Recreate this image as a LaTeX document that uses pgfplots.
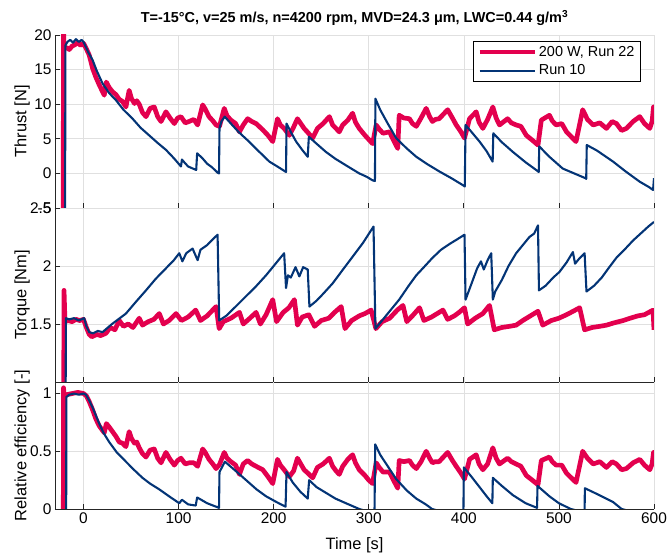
\documentclass[border=0pt]{standalone}
\usepackage{pgfplots}
\pgfplotsset{compat=1.18}
\usepackage{fontspec}
\setmainfont{Liberation Sans}
\definecolor{cred}{RGB}{227,0,78}
\definecolor{cblue}{RGB}{3,52,118}
\pgfplotsset{
 myax/.style={scale only axis, width=599bp, xmin=-30, xmax=600,
  axis x line*=bottom, axis y line*=left, axis line style={-, color=black!85, line width=0.7pt},
  tick align=inside, major tick length=5bp, tick style={color=black!85, line width=0.7pt},
  grid=major, grid style={color=black!12, line width=0.6pt},
  xtick={0,100,...,600},
  tick label style={font=\fontsize{15.5}{17}\selectfont},
  label style={font=\fontsize{16.5}{18}\selectfont},
  /pgf/number format/assume math mode=true,
  ylabel style={at={(axis description cs:-0.055,0.5)}, anchor=center},
  no markers,
 },
 redl/.style={color=cred, line width=4.7pt, line join=round},
 bluel/.style={color=cblue, line width=2.1pt, line join=round},
}
\begin{document}
\begin{tikzpicture}
\path[use as bounding box] (-55bp,-47bp) rectangle (615bp,509bp);
% ---------------- Thrust ----------------
\begin{axis}[myax, at={(0,301bp)}, anchor=south west, height=173bp,
  ymin=-5, ymax=20, ytick={-5,0,5,10,15,20}, xticklabels={},
  ylabel={Thrust [N]},
  legend style={at={(0.978,0.965)}, anchor=north east, draw=black, line width=0.6pt, fill=white,
    font=\fontsize{14.5}{16}\selectfont, inner xsep=4bp, inner ysep=3bp, row sep=3bp},
  legend cell align=left,
  legend image code/.code={\draw[#1] (0bp,0bp) -- (55bp,0bp);}]
\addplot[redl] coordinates {
(-30,-10) (-21.5,-10) (-21,22) (-20.5,18.0) (-18,18.2) (-15,17.9) (-12,18.4) (-9,18.6) (-6,18.9) (-3,18.5) (0,18.8)
(3,18.0) (6,17.1) (9.5,15.2) (13,13.9) (16.5,12.8) (21.8,11.3) (24,13.2) (27,12.4) (30.5,11.8) (34,11.4) (37.6,10.7)
(41,10.4) (44.6,9.6) (48,12.0) (50.5,10.8) (53.6,10.1) (56,10.5) (58.6,10.0) (62,8.8) (65.7,8.2) (70,9.4) (74.4,9.6) (78,8.2) (81.5,7.5) (86.7,8.9) (91,8.0)
(95.5,7.2) (99,8.0) (102.5,8.2) (107,7.3) (111,7.5) (116,7.8) (120,7.0) (125.3,9.9) (128,9.3) (132,8.2)
(136,7.6) (139.4,7.0) (143,6.8) (148,9.4) (151,8.3) (155,7.7) (160,7.2) (164,6.0) (168,7.0) (172.6,7.9) (177,7.5) (181.5,7.2)
(188.5,6.3) (194,5.5) (199,4.6) (204,7.9) (207,7.0) (211,6.5) (216.5,5.5) (221,6.7) (225,7.9) (232,6.5) (236,5.9)
(241,5.1) (246,6.5) (252,7.2) (258.6,8.2) (262,7.0) (265.6,6.5) (269,6.0) (272.6,7.0) (278,7.7) (283,8.7)
(286,7.4) (290,6.5) (296,5.5) (300,4.9) (304,4.3) (307.8,7.0) (311,6.4) (315,5.8) (321.8,6.0) (326,4.8) (330.5,3.6)
(332,8.4) (337,8.0) (342.8,7.9) (346,7.2) (350,6.8) (355,8.0) (360.4,9.4) (364,8.2) (367,7.5) (370,7.8) (374,7.9) (383,9.2)
(388,8.0) (392,7.0) (397,6.0) (400.7,5.1) (406,7.9) (413,8.9) (416,7.4) (420,6.5) (425,7.8) (430.5,9.6) (434,8.0) (437.5,7.0)
(446,7.9) (450,7.3) (455,7.0) (460,6.8) (465.7,5.5) (472,4.8) (478,4.1) (481.5,7.7) (490,8.4) (493,7.6) (497,7.0) (503,7.2)
(508,6.0) (513,5.3) (518,4.6) (525,9.2) (530,7.8) (536,7.0) (543,7.3) (550,6.5) (556,7.5) (560.5,7.2)
(566,6.2) (571,6.5) (578,7.5) (585,8.2) (590,7.2) (595.6,6.5) (598,7.5) (599.5,9.6) (600,8.4)
};
\addlegendentry{200 W, Run 22}
\addplot[bluel] coordinates {
(-30,-10) (-19.5,-10) (-19,18.5) (-17,19.0) (-14,19.3) (-11,18.9) (-8,19.4) (-5,19.0) (-2,19.3) (0,19.0)
(2,18.4) (5,17.5) (9.5,16.4) (14,14.8) (20,13.0) (27,11.6) (34,10.6) (42,9.2) (51.6,7.9) (60,6.6) (69,5.5)
(78,4.4) (86.7,3.4) (95,2.2) (102.5,1.0) (103.5,2.0) (106,1.6) (110,1.0) (115,0.7) (118.5,0.5) (119.5,2.9)
(125,2.2) (130,1.4) (135,0.9) (141,0.1) (142.5,0.0) (143,6.5) (145,7.5) (148.5,8.2) (155,7.2) (163,6.0)
(174,4.6) (185,3.1) (195.5,1.7) (205,0.9) (213,0.2) (213.5,7.2) (218,6.0) (223.6,4.6) (230,3.4) (235.8,2.4)
(237,5.3) (245,4.3) (255,3.1) (265,2.1) (278,1.0) (290,0.0) (298,-0.5) (304,-1.0) (306.5,-1.1) (307,10.8)
(312,9.2) (320,7.2) (328.8,5.1) (340,3.6) (350,2.4) (362,1.3) (374,0.3) (387,-0.7) (399,-1.7) (401,-1.9)
(401.8,7.0) (408,6.0) (416.5,4.6) (424,3.2) (430.3,1.7) (431,5.8) (440,4.5) (451.6,3.1) (465,1.6) (478,0.3)
(478.8,0.2) (479.3,3.9) (490,2.4) (504,0.7) (516,0) (528,-0.7) (528.7,-0.8) (529.3,4.1) (540,3.3) (557,1.7)
(570,0.3) (585,-1.2) (595,-2.0) (599,-2.4) (600,-0.7)
};
\addlegendentry{Run 10}
\end{axis}
% ---------------- Torque ----------------
\begin{axis}[myax, at={(0,127bp)}, anchor=south west, height=174bp,
  ymin=1, ymax=2.5, ytick={1.5,2,2.5}, xticklabels={},
  ylabel={Torque [Nm]}]
\addplot[redl] coordinates {
(-30,0.5) (-21,0.5) (-20.5,1.79) (-19.5,1.52) (-16,1.53) (-12,1.52) (-8,1.54) (-4,1.53) (0,1.54) (3,1.47)
(6,1.41) (8.7,1.39) (14,1.41) (18,1.40) (23.6,1.42) (28,1.47) (33,1.45) (37.6,1.53) (42,1.48) (47,1.50)
(52,1.47) (58.6,1.55) (62,1.49) (68,1.52) (74,1.54) (79.7,1.59) (84,1.50) (90,1.53) (97.3,1.59) (103,1.53)
(110,1.56) (118,1.62) (123,1.53) (130,1.57) (139.4,1.65) (142.7,1.46) (147,1.52) (155,1.55) (164,1.60)
(168,1.50) (175,1.55) (181.5,1.60) (186,1.50) (192,1.58) (199,1.71) (203,1.52) (210,1.60) (216,1.64)
(221.8,1.71) (225,1.49) (230,1.56) (237,1.58) (243,1.48) (250,1.53) (258,1.55) (264,1.60) (271,1.65)
(275,1.46) (282,1.53) (290,1.57) (296,1.59) (302.5,1.62) (307.5,1.46) (314,1.52) (322,1.55) (330,1.62)
(336,1.66) (340,1.52) (347,1.58) (353.4,1.64) (358,1.53) (366,1.56) (372,1.59) (378,1.62) (383,1.54)
(390,1.57) (395,1.60) (400.7,1.64) (404,1.50) (412,1.55) (420,1.59) (427,1.66) (432,1.45) (440,1.47)
(448,1.48) (455,1.49) (462,1.53) (470,1.57) (478,1.61) (483,1.49) (492,1.53) (500,1.55) (508,1.58)
(515,1.61) (521.8,1.64) (527,1.45) (535,1.47) (543,1.48) (550,1.49) (558,1.51) (567.7,1.53) (575,1.55)
(583,1.57) (590,1.58) (599,1.62) (600,1.45)
};
\addplot[bluel] coordinates {
(-30,0.5) (-19,0.5) (-18.5,1.55) (-15,1.54) (-10,1.55) (-5,1.53) (0.7,1.55) (3,1.48) (6,1.43) (10,1.42)
(15,1.44) (20,1.43) (30,1.50) (44.6,1.59) (55,1.69) (65.7,1.79) (76,1.89) (86.7,1.98) (95,2.05) (100.7,2.11)
(104,2.04) (108,2.11) (114.7,2.15) (120,2.05) (123,2.14) (130,2.18) (136,2.23) (141,2.27) (142.7,1.53)
(150,1.57) (160,1.65) (171,1.74) (182,1.83) (192,1.92) (202,2.02) (211,2.11) (213,1.81) (215,1.92) (218,1.90)
(223,1.99) (227,1.91) (231,1.99) (235.8,1.97) (237.6,1.65) (245,1.70) (252,1.76) (262,1.85) (272,1.96)
(283,2.08) (294,2.20) (305,2.34) (307,1.46) (316,1.55) (324,1.63) (332,1.71) (342,1.83) (350,1.92) (358,1.99)
(367,2.07) (376,2.14) (385,2.19) (393,2.23) (400.7,2.27) (401.8,1.71) (405,1.78) (409.5,1.88) (414,1.98)
(418,2.04) (421,1.97) (425,2.05) (428.8,2.11) (430.5,1.71) (433,1.78) (440,1.88) (447,2.00) (455,2.11)
(462,2.18) (469,2.25) (474,2.28) (478,2.35) (479,1.79) (486,1.83) (494,1.90) (500.7,1.95) (508,2.03)
(514.7,2.12) (517,2.02) (521,2.06) (527,2.11) (529,1.78) (537,1.83) (545,1.90) (553,1.99) (560.4,2.07)
(570,2.15) (578,2.22) (586,2.28) (594,2.34) (600,2.38)
};
\end{axis}
% ---------------- Efficiency ----------------
\begin{axis}[myax, at={(0,0)}, anchor=south west, height=127bp,
  ymin=0, ymax=1.1, ytick={0,0.5,1},
  ylabel={Relative efficiency [-]}, xlabel={Time [s]},
  xlabel style={at={(axis description cs:0.5,0)}, anchor=center, yshift=-36bp}]
\addplot[redl] coordinates {
(-30,-1) (-21.5,-1) (-21,1.05) (-20.5,0.98) (-18,0.99) (-12,1.0) (-6,1.01) (0,1.0) (3,0.98) (6,0.93)
(9.5,0.86) (13,0.78) (16.5,0.72) (21.8,0.66) (24,0.74) (27,0.71) (30.5,0.67) (34,0.63) (37.6,0.58) (41,0.57) (44.6,0.54)
(48,0.67) (50.5,0.61) (53.6,0.57) (56,0.58) (58.6,0.53) (62,0.48) (65.7,0.45) (70,0.51) (74.4,0.52) (78,0.44) (81.5,0.40) (86.7,0.49) (91,0.43)
(95.5,0.38) (99,0.42) (102.5,0.44) (107,0.39) (111,0.40) (116,0.40) (120,0.37) (125.3,0.52) (128,0.49)
(132,0.43) (136,0.39) (139.4,0.35) (143,0.385) (148,0.49) (151,0.44) (155,0.41) (160,0.38) (164,0.30) (168,0.39) (172.6,0.42)
(177,0.39) (181.5,0.37) (188.5,0.34) (194,0.28) (199,0.22) (204,0.43) (207,0.38) (211,0.34) (216.5,0.28) (221,0.33)
(225,0.44) (232,0.34) (236,0.31) (241,0.27) (246,0.36) (252,0.39) (258.6,0.44) (262,0.37) (265.6,0.33)
(269,0.30) (272.6,0.37) (278,0.43) (283,0.47) (286,0.40) (290,0.34) (296,0.29) (300,0.25) (304,0.22) (307.8,0.40)
(311,0.36) (315,0.32) (321.8,0.32) (326,0.25) (330.5,0.18) (332,0.42) (337,0.41) (342.8,0.42) (346,0.38) (350,0.35)
(355,0.41) (360.4,0.50) (364,0.44) (367,0.40) (370,0.41) (374,0.41) (383,0.49) (388,0.42) (392,0.37) (397,0.31)
(400.7,0.26) (406,0.43) (413,0.47) (416,0.39) (420,0.34) (425,0.39) (430.5,0.53) (434,0.44) (437.5,0.39) (446,0.44) (450,0.41) (455,0.39)
(460,0.37) (465.7,0.29) (472,0.25) (478,0.21) (481.5,0.42) (490,0.45) (493,0.41) (497,0.38) (503,0.38) (508,0.31)
(513,0.27) (518,0.23) (525,0.50) (530,0.44) (536,0.39) (543,0.41) (550,0.36) (556,0.41) (560.5,0.39)
(566,0.34) (571,0.35) (578,0.40) (585,0.43) (590,0.38) (595.6,0.34) (598,0.39) (599.5,0.49) (600,0.45)
};
\addplot[bluel] coordinates {
(-30,-1) (-18.5,-1) (-18,0.97) (-15,0.99) (-10,1.00) (-5,0.99) (0,1.00) (2.5,0.99) (6,0.94) (9.5,0.88)
(13,0.81) (16.5,0.74) (21,0.66) (27,0.58) (35,0.49) (44.6,0.41) (53,0.34) (62,0.27) (70,0.22) (79.7,0.17)
(90,0.11) (100.7,0.05) (103.5,0.08) (110,0.04) (118,0.03) (119.5,0.10) (130,0.05) (139.4,0.02) (142.5,0.01)
(143,0.32) (148.7,0.41) (160,0.33) (171,0.25) (182,0.17) (192,0.11) (203,0.06) (212.5,0.02) (213.5,0.32)
(220,0.23) (228,0.15) (235.8,0.09) (237.3,0.25) (245,0.19) (255,0.14) (265,0.09) (276,0.05) (290,0.0)
(298,-0.02) (306,-0.05) (306.8,0.56) (312,0.47) (320,0.37) (328.8,0.26) (340,0.16) (350,0.09) (360,0.04)
(366.6,0.0) (380,-0.03) (399.5,-0.06) (400,0.36) (408,0.28) (416.5,0.19) (424,0.11) (430,0.05) (430.5,0.27)
(440,0.20) (451.6,0.12) (465,0.05) (477,0.01) (477.5,0.20) (490,0.11) (500,0.05) (512.5,0.0) (527,-0.03)
(527.3,0.18) (540,0.13) (557,0.06) (566,0.0) (590,-0.05) (600,-0.04)
};
\end{axis}
\node[font=\bfseries\fontsize{14.5}{16}\selectfont, anchor=base] at (299.5bp,486bp)
  {T=-15°C, v=25 m/s, n=4200 rpm, MVD=24.3 μm, LWC=0.44 g/m\textsuperscript{3}};
\end{tikzpicture}
\end{document}
